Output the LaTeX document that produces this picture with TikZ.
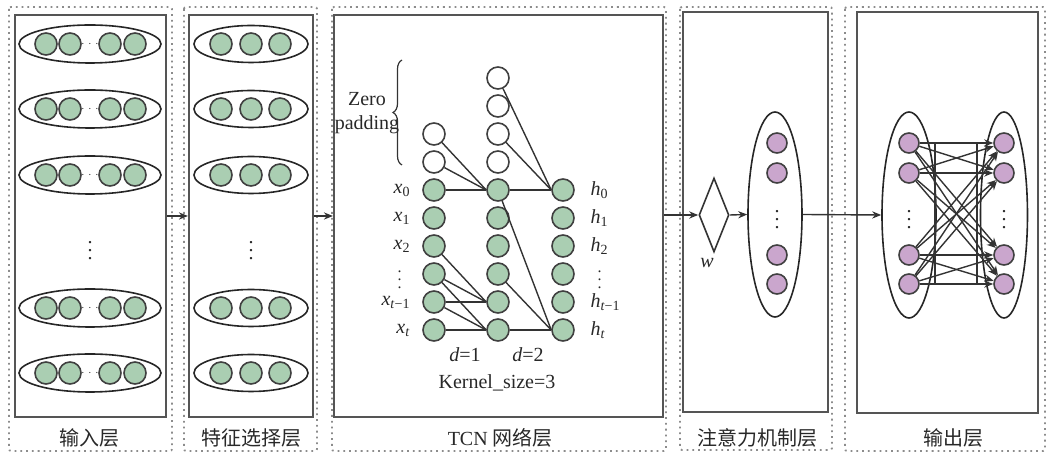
\documentclass[tikz,border=0pt]{standalone}
\usepackage{fontspec}
\setmainfont{Liberation Serif}
\newfontfamily\cjk{Noto Sans CJK SC}
\usetikzlibrary{arrows.meta, positioning, calc, fit, shapes.geometric, decorations.pathreplacing}
\definecolor{nodegreen}{RGB}{170, 206, 178}
\definecolor{nodepurple}{RGB}{202, 166, 205}
\definecolor{boxline}{RGB}{85, 85, 85}
\definecolor{dotline}{RGB}{140, 140, 140}
\definecolor{txtgray}{RGB}{40, 40, 40}
\newcommand{\var}[2]{\textit{#1}\textsubscript{#2}}

\begin{document}
\begin{tikzpicture}[
    x=0.5pt, y=-0.5pt,
    >={Stealth[length=4.5pt, width=3.6pt]},
    line width=0.7pt, draw=black!80, text=txtgray,
    font=\fontsize{10}{12}\selectfont,
    outerbox/.style={draw=dotline, dotted, line width=0.9pt, rounded corners=1pt},
    innerbox/.style={draw=boxline, line width=1.1pt, inner sep=0pt},
    unit/.style={circle, draw=black!75, line width=0.8pt, minimum size=11pt, inner sep=0pt, fill=nodegreen},
    pad/.style={unit, fill=white},
    attn/.style={circle, draw=black!75, line width=0.8pt, minimum size=10pt, inner sep=0pt, fill=nodepurple},
    oval/.style={ellipse, draw=black!85, line width=0.8pt, inner sep=0pt},
    layername/.style={font=\fontsize{10}{12}\selectfont\cjk},
    seqlab/.style={inner sep=0.5pt},
    vdotlab/.style={inner sep=0pt, font=\fontsize{8}{8}\selectfont},
]
    \useasboundingbox (0,0) rectangle (1051,453);

    % --- frames ---
    \draw[outerbox] (9,7) rectangle (172,451);
    \draw[outerbox] (184,7) rectangle (317,451);
    \draw[outerbox] (332,7) rectangle (666,451);
    \draw[outerbox] (680,7) rectangle (832,450);
    \draw[outerbox] (845,7) rectangle (1045,451);
    \node[innerbox, fit={(15,15) (166,417)}] (box1) {};
    \node[innerbox, fit={(189,15) (313,417)}] (box2) {};
    \node[innerbox, fit={(334,15) (663,417)}] (box3) {};
    \node[innerbox, fit={(683,12) (828,412)}] (box4) {};
    \node[innerbox, fit={(857,12) (1038,413)}] (box5) {};
    \node[layername] (name1) at (90,438) {输入层};
    \node[layername] (name2) at (251,438) {特征选择层};
    \node[layername] (name3) at (500,438) {{\rmfamily TCN} 网络层};
    \node[layername] (name4) at (757,438) {注意力机制层};
    \node[layername] (name5) at (953,438) {输出层};

    % --- input layer ---
    \foreach \r/\yy in {1/44, 2/109, 3/175, 4/308, 5/373} {
        \node[oval, minimum width=71pt, minimum height=19pt] (in\r) at (90,\yy) {};
        \foreach \c/\xx in {1/46, 2/70, 3/110, 4/135}
            \node[unit] (in\r-\c) at (\xx,\yy) {};
        \node[font=\tiny] (indots\r) at (90,\yy) {$\cdots$};
    }
    \node (invdots) at (90,245) {$\vdots$};

    % --- feature selection layer ---
    \foreach \r/\yy in {1/44, 2/109, 3/175, 4/308, 5/373} {
        \node[oval, minimum width=57pt, minimum height=18.5pt] (fs\r) at (251,\yy) {};
        \foreach \c/\xx in {1/221, 2/251, 3/280}
            \node[unit] (fs\r-\c) at (\xx,\yy) {};
    }
    \node (fsvdots) at (251,245) {$\vdots$};
    \draw[->] (box1.east) -- (box2.west);
    \draw[->] (box2.east) -- (box3.west);

    % --- TCN layer ---
    \foreach \k/\xx in {1/434, 2/498, 3/563}
        \foreach \r in {0,...,5}
            \node[unit] (t\k-\r) at (\xx,190+28*\r) {};
    \foreach \r in {1,2} \node[pad] (p1-\r) at (434,190-28*\r) {};
    \foreach \r in {1,...,4} \node[pad] (p2-\r) at (498,190-28*\r) {};
    \foreach \a/\b in {p1-1/t2-0, p1-2/t2-0, t1-0/t2-0, p2-2/t3-0, p2-4/t3-0, t2-0/t3-0,
                       t2-0/t3-5, t2-3/t3-5, t2-5/t3-5, t1-2/t2-4, t1-3/t2-4, t1-3/t2-5,
                       t1-4/t2-4, t1-4/t2-5, t1-5/t2-5}
        \draw (\a) -- (\b.west);
    \foreach \r/\lab in {0/\var{x}{0}, 1/\var{x}{1}, 2/\var{x}{2}, 4/\var{x}{\textit{t}−1}, 5/\var{x}{\textit{t}}}
        \node[seqlab, left=5pt of t1-\r] (lx\r) {\lab};
    \node[vdotlab, left=10pt of t1-3] (lx3) {$\vdots$};
    \foreach \r/\lab in {0/\var{h}{0}, 1/\var{h}{1}, 2/\var{h}{2}, 4/\var{h}{\textit{t}−1}, 5/\var{h}{\textit{t}}}
        \node[seqlab, right=7pt of t3-\r] (lh\r) {\lab};
    \node[vdotlab, right=11pt of t3-3] (lh3) {$\vdots$};
    \coordinate (bracebot) at (402,165);
    \coordinate (bracetop) at (402,60);
    \draw[decorate, decoration={brace, amplitude=4.5pt}, line width=0.6pt] (bracebot) -- (bracetop);
    \node[align=center, inner sep=0pt] (zeropad) at (367,113) {Zero\\padding};
    \node (dil1) at (465,355) {\textit{d}=1};
    \node (dil2) at (528,355) {\textit{d}=2};
    \node (ksize) at (497,383) {Kernel\_size=3};

    % --- attention layer ---
    \node[diamond, draw=black!80, line width=0.8pt, inner sep=0pt, minimum width=15pt, minimum height=37pt] (wgate) at (714,215) {};
    \node (wlab) at (707,263) {\textit{w}};
    \node[oval, minimum width=27pt, minimum height=102.5pt] (attbox) at (775,214.5) {};
    \foreach \i/\yy in {1/143, 2/173, 3/255, 4/284}
        \node[attn] (at\i) at (777,\yy) {};
    \node (atvdots) at (777,214) {$\vdots$};
    \draw[->] (box3.east |- wgate) -- (wgate.west);
    \draw[->] (wgate.east) -- (attbox.west);

    % --- output layer ---
    \node[oval, minimum width=27pt, minimum height=103pt] (outL) at (909,215) {};
    \node[oval, minimum width=23.5pt, minimum height=103pt] (outR) at (1004,215) {};
    \draw[->] (attbox.east) -- (outL.west);
    \draw[line width=0.6pt] (935,143) rectangle (977,284);
    \foreach \i/\yy in {1/143, 2/173, 3/255, 4/284} {
        \node[attn] (ol\i) at (909,\yy) {};
        \node[attn] (or\i) at (1004,\yy) {};
    }
    \node (olvdots) at (909,214) {$\vdots$};
    \node (orvdots) at (1004,214) {$\vdots$};
    \foreach \i in {1,...,4}
        \foreach \j in {1,...,4}
            \draw[->] (ol\i) -- (or\j);
\end{tikzpicture}
\end{document}
